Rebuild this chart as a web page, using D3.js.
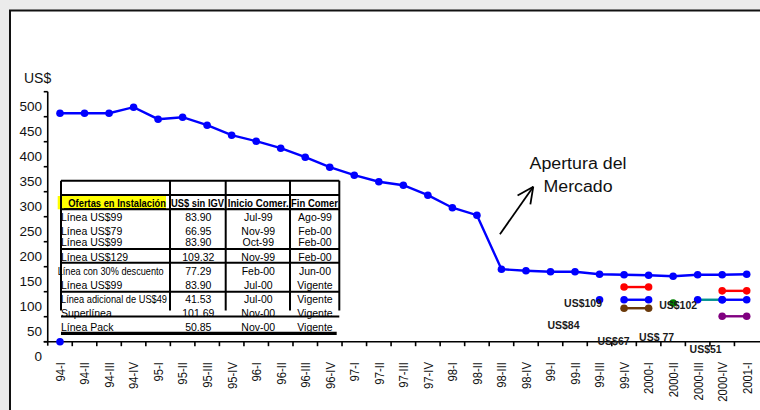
<!DOCTYPE html>
<html>
<head>
<meta charset="utf-8">
<script src="https://cdn.jsdelivr.net/npm/d3@7"></script>
<style>
  html, body { margin: 0; padding: 0; background: #ebebeb; }
  svg { display: block; font-family: "Liberation Sans", Arial, sans-serif; }
</style>
</head>
<body>
<svg id="chart" width="760" height="410"></svg>
<script>
// Quarters on the horizontal axis
const quarters = [
  "94-I", "94-II", "94-III", "94-IV",
  "95-I", "95-II", "95-III", "95-IV",
  "96-I", "96-II", "96-III", "96-IV",
  "97-I", "97-II", "97-III", "97-IV",
  "98-I", "98-II", "98-III", "98-IV",
  "99-I", "99-II", "99-III", "99-IV",
  "2000-I", "2000-II", "2000-III", "2000-IV", "2001-I"
];

// Installation price per quarter (US$)
const marketPrice = [
  457, 457, 457, 469,
  445, 449, 433, 413,
  401, 387, 369, 349,
  333, 320, 313, 293,
  268, 253, 145, 142,
  140, 140, 135, 134,
  133, 131, 134, 134, 135
];

// Single mark at the origin quarter
const originQuarter = ["94-I"];
const originValue = [0];

// Installation offers (table)
const offerNames = [
  "Línea US$99", "Línea US$79", "Línea US$99", "Línea US$129",
  "Línea con 30% descuento", "Línea US$99", "Línea adicional de US$49",
  "Superlínea", "Línea Pack"
];
const offerPrices = ["83.90", "66.95", "83.90", "109.32", "77.29", "83.90", "41.53", "101.69", "50.85"];
const offerStart = ["Jul-99", "Nov-99", "Oct-99", "Nov-99", "Feb-00", "Jul-00", "Jul-00", "Nov-00", "Nov-00"];
const offerEnd = ["Ago-99", "Feb-00", "Feb-00", "Feb-00", "Jun-00", "Vigente", "Vigente", "Vigente", "Vigente"];
const tableHeaders = ["Ofertas en Instalación", "US$ sin IGV", "Inicio Comer.", "Fin Comer"];

// Offer price levels plotted over the quarters they were on sale
const segFrom  = ["99-III", "99-IV", "99-IV", "99-IV", "2000-II", "2000-III", "2000-IV", "2000-IV", "2000-IV"];
const segTo    = ["99-III", "2000-I", "2000-I", "2000-I", "2000-II", "2000-IV", "2001-I", "2001-I", "2001-I"];
const segValue = [83.90, 66.95, 83.90, 109.32, 77.29, 83.90, 83.90, 101.69, 50.85];
const segLineColor   = ["#0000ff", "#6b3a0b", "#0000ff", "#ff0000", "#008000", "#009090", "#0000ff", "#ff0000", "#800080"];
const segMarkerColor = ["#0000ff", "#6b3a0b", "#0000ff", "#ff0000", "#008000", "#0000ff", "#0000ff", "#ff0000", "#800080"];

// Price call-outs near the offer marks
const calloutText    = ["US$109", "US$84", "US$67", "US$ 77", "US$102", "US$51"];
const calloutQuarter = ["99-II", "99-I", "99-III", "2000-I", "2000-II", "2000-III"];
const calloutLevel   = [69, 25, -7, 1.5, 65, -22];
const calloutShift   = [8, 13, 14, 8, 5, 8];

const yTicks = [0, 50, 100, 150, 200, 250, 300, 350, 400, 450, 500];

const svg = d3.select("#chart");

// Chart frame
svg.append("rect")
  .attr("x", 10).attr("y", 10.5)
  .attr("width", 800).attr("height", 430)
  .attr("fill", "#ffffff")
  .attr("stroke", "#111").attr("stroke-width", 2);

// Scales
const x = d3.scalePoint().domain(quarters).range([60, 746.7]);
const step = x.step();
const xLeft = x(quarters[0]) - step / 2;
const y = d3.scaleLinear().domain([0, 500]).range([341.7, 91.7]);

// ----- Offers table -----
const tbl = svg.append("g").attr("class", "offers-table");
const colX = [61, 170, 225.7, 290, 339.3];
const colCenter = [null, 198.3, 258.3, 315];
const tableTop = 180.7, tableBodyEnd = 316.5;
const ruleY = [180.7, 195, 209.3, 249, 262.7, 291.7, 316.5];
const headerBase = 207;
const rowBase = [221, 235.4, 246.4, 261, 275.4, 288.7, 303, 317, 331];

tbl.append("rect")
  .attr("x", 57.7).attr("y", 196).attr("width", 108.3).attr("height", 13.3)
  .attr("fill", "#ffff00");

tbl.selectAll("line.rule").data(ruleY).join("line")
  .attr("class", "rule")
  .attr("x1", colX[0]).attr("x2", colX[4])
  .attr("y1", d => d).attr("y2", d => d)
  .attr("stroke", "#000").attr("stroke-width", 2);

tbl.selectAll("line.col").data(colX).join("line")
  .attr("class", "col")
  .attr("x1", d => d).attr("x2", d => d)
  .attr("y1", tableTop).attr("y2", tableBodyEnd - 6)
  .attr("stroke", "#000").attr("stroke-width", 2);

tbl.append("line")
  .attr("x1", 61).attr("x2", 336.7).attr("y1", 333.3).attr("y2", 333.3)
  .attr("stroke", "#000").attr("stroke-width", 3.2);

const headerX = [68.3, 171, 227.7, 291];
const headerW = [97.7, 53, 61, 47];
tbl.selectAll("text.hdr").data(tableHeaders).join("text")
  .attr("class", "hdr")
  .attr("x", (d, i) => headerX[i]).attr("y", headerBase)
  .attr("font-size", 10).attr("font-weight", "bold")
  .attr("text-decoration", "underline")
  .attr("textLength", (d, i) => headerW[i])
  .attr("lengthAdjust", "spacingAndGlyphs")
  .attr("fill", "#000")
  .text(d => d);
// leading underline before the first header
tbl.append("line").attr("x1", 64).attr("x2", 68.3).attr("y1", headerBase + 1.5).attr("y2", headerBase + 1.5)
  .attr("stroke", "#000").attr("stroke-width", 0.8);

const rows = offerNames.map((n, i) => ({ name: n, price: offerPrices[i], start: offerStart[i], end: offerEnd[i], i }));
const nameText = tbl.selectAll("text.name").data(rows).join("text")
  .attr("class", "name")
  .attr("x", d => d.i === 4 ? 57.7 : 61).attr("y", d => rowBase[d.i])
  .attr("font-size", 10.5).attr("fill", "#000")
  .text(d => d.name);
nameText.each(function () {
  const w = this.getComputedTextLength();
  if (w > 106) d3.select(this).attr("textLength", 106).attr("lengthAdjust", "spacingAndGlyphs");
});
[["price", 1], ["start", 2], ["end", 3]].forEach(([key, c]) => {
  tbl.selectAll("text." + key).data(rows).join("text")
    .attr("class", key)
    .attr("x", colCenter[c]).attr("y", d => rowBase[d.i])
    .attr("text-anchor", "middle")
    .attr("font-size", 10.5).attr("fill", "#000")
    .text(d => d[key]);
});

// ----- Axes -----
const axes = svg.append("g").attr("class", "axes");
// y axis
axes.append("line")
  .attr("x1", xLeft).attr("x2", xLeft)
  .attr("y1", y(500)).attr("y2", y(0) + 4)
  .attr("stroke", "#000").attr("stroke-width", 1.6);
axes.selectAll("line.ytick").data(yTicks).join("line")
  .attr("class", "ytick")
  .attr("x1", xLeft - 4).attr("x2", xLeft)
  .attr("y1", d => y(d)).attr("y2", d => y(d))
  .attr("stroke", "#000").attr("stroke-width", 1.6);
axes.selectAll("text.ylab").data(yTicks).join("text")
  .attr("class", "ylab")
  .attr("x", 42).attr("y", d => y(d) + 15)
  .attr("dy", "0.35em")
  .attr("text-anchor", "end")
  .attr("font-size", 13.5).attr("fill", "#111")
  .text(d => d);
axes.append("text")
  .attr("x", 24).attr("y", 83)
  .attr("font-size", 14).attr("fill", "#111")
  .text("US$");

// x axis
axes.append("line")
  .attr("x1", xLeft - 4).attr("x2", 760)
  .attr("y1", y(0)).attr("y2", y(0))
  .attr("stroke", "#000").attr("stroke-width", 1.6);
axes.selectAll("line.xtick").data(quarters.slice(1)).join("line")
  .attr("class", "xtick")
  .attr("x1", d => x(d) - step / 2).attr("x2", d => x(d) - step / 2)
  .attr("y1", y(0)).attr("y2", y(0) + 4.5)
  .attr("stroke", "#000").attr("stroke-width", 1.6);
axes.selectAll("text.xlab").data(quarters).join("text")
  .attr("class", "xlab")
  .attr("transform", d => `translate(${x(d)},362) rotate(-90) scale(0.84,1)`)
  .attr("dy", "0.36em")
  .attr("text-anchor", "end")
  .attr("font-size", 13.5).attr("fill", "#111")
  .text(d => d);

// ----- Price series -----
const line = d3.line().x(d => x(d.q)).y(d => y(d.v));
const market = quarters.map((q, i) => ({ q, v: marketPrice[i] }));
svg.append("path")
  .datum(market)
  .attr("d", line)
  .attr("fill", "none").attr("stroke", "#0000ff").attr("stroke-width", 2.4);
svg.selectAll("circle.market").data(market).join("circle")
  .attr("class", "market")
  .attr("cx", d => x(d.q)).attr("cy", d => y(d.v)).attr("r", 3.8)
  .attr("fill", "#0000ff");

svg.selectAll("circle.origin").data(originQuarter.map((q, i) => ({ q, v: originValue[i] }))).join("circle")
  .attr("class", "origin")
  .attr("cx", d => x(d.q)).attr("cy", d => y(d.v)).attr("r", 3.8)
  .attr("fill", "#0000ff");

// Offer levels
const segs = segFrom.map((f, i) => {
  const a = quarters.indexOf(f), b = quarters.indexOf(segTo[i]);
  return { pts: quarters.slice(a, b + 1).map(q => ({ q, v: segValue[i] })), line: segLineColor[i], mark: segMarkerColor[i] };
});
const segG = svg.append("g").attr("class", "offers");
segs.forEach(s => {
  if (s.pts.length > 1) {
    segG.append("path").datum(s.pts).attr("d", line)
      .attr("fill", "none").attr("stroke", s.line).attr("stroke-width", 2.4);
  }
  segG.selectAll(null).data(s.pts).join("circle")
    .attr("cx", d => x(d.q)).attr("cy", d => y(d.v)).attr("r", 3.8)
    .attr("fill", s.mark);
});

// Call-out labels
svg.selectAll("text.callout").data(calloutText).join("text")
  .attr("class", "callout")
  .attr("x", (d, i) => x(calloutQuarter[i]) + calloutShift[i])
  .attr("y", (d, i) => y(calloutLevel[i]))
  .attr("text-anchor", "middle")
  .attr("font-size", 10.5).attr("font-weight", "bold").attr("fill", "#1a1a1a")
  .text(d => d);

// Market-opening annotation
const ann = svg.append("g").attr("class", "annotation");
const tail = [x("98-III") - 1.5, y(215)];
const tip = [x("98-IV") + 7.3, y(310)];
ann.append("line")
  .attr("x1", tail[0]).attr("y1", tail[1]).attr("x2", tip[0]).attr("y2", tip[1])
  .attr("stroke", "#000").attr("stroke-width", 1.8);
const ang = Math.atan2(tip[1] - tail[1], tip[0] - tail[0]);
[-0.45, 0.45].forEach(da => {
  ann.append("line")
    .attr("x1", tip[0]).attr("y1", tip[1])
    .attr("x2", tip[0] - 18 * Math.cos(ang + da)).attr("y2", tip[1] - 18 * Math.sin(ang + da))
    .attr("stroke", "#000").attr("stroke-width", 1.8);
});
ann.append("text").attr("x", 578).attr("y", 169)
  .attr("text-anchor", "middle").attr("font-size", 16).attr("fill", "#111")
  .attr("textLength", 97).attr("lengthAdjust", "spacingAndGlyphs")
  .text("Apertura del");
ann.append("text").attr("x", 578).attr("y", 192)
  .attr("text-anchor", "middle").attr("font-size", 16).attr("fill", "#111")
  .attr("textLength", 69).attr("lengthAdjust", "spacingAndGlyphs")
  .text("Mercado");
</script>
</body>
</html>
